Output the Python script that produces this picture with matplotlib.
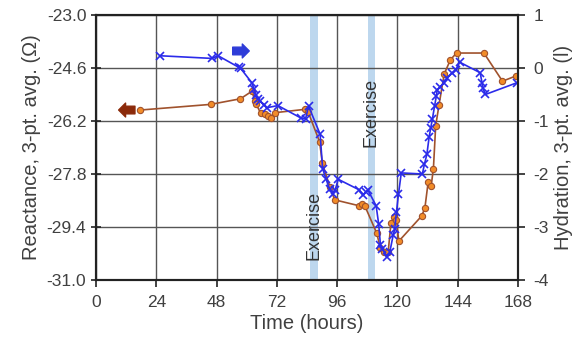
import numpy as np
import matplotlib
matplotlib.use('Agg')
import matplotlib.pyplot as plt

plt.rcParams['font.family'] = ['Liberation Sans', 'DejaVu Sans']
plt.rcParams['axes.unicode_minus'] = False

# reactance (left axis), orange circles
react_t = [17.7, 45.6, 57.5, 62.1, 63.2, 63.8, 65.5, 67.1, 68.5, 69.5, 71.2,
           83.1, 84.4, 89.0, 90.1, 93.1, 95.0, 104.8, 105.8, 107.1, 111.7,
           113.2, 114.6, 116.3, 117.4, 118.6, 119.6, 120.5, 129.6, 130.9,
           132.2, 133.4, 134.3, 135.2, 136.5, 138.6, 141.1, 143.5, 154.4,
           161.8, 167.2]
react_v = [-25.87, -25.70, -25.53, -25.30, -25.60, -25.70, -25.96, -26.00,
           -26.05, -26.12, -25.95, -25.85, -25.92, -26.83, -27.48, -28.19,
           -28.58, -28.76, -28.70, -28.78, -29.58, -30.03, -30.15, -30.15,
           -29.28, -29.10, -29.18, -29.83, -29.07, -28.83, -28.05, -28.16,
           -27.64, -26.35, -25.73, -24.78, -24.35, -24.15, -24.15, -25.00,
           -24.84]

# hydration (right axis), blue crosses
hyd_t = [25.4, 46.1, 48.6, 56.9, 57.6, 62.2, 62.8, 63.6, 64.5, 65.3, 67.0,
         68.0, 72.4, 81.4, 83.4, 84.6, 89.2, 90.2, 91.6, 93.0, 94.4, 95.2,
         96.4, 104.8, 106.3, 107.4, 108.3, 111.5, 112.5, 113.2, 114.0, 115.7,
         116.9, 118.3, 118.9, 119.6, 120.4, 121.5, 129.9, 130.7, 131.7, 132.6,
         133.2, 133.9, 134.8, 135.5, 135.8, 137.1, 138.4, 139.8, 141.6, 143.2,
         144.7, 152.9, 153.7, 154.0, 155.0, 167.5]
hyd_v = [0.23, 0.18, 0.23, 0.01, -0.01, -0.29, -0.40, -0.51, -0.58, -0.63,
         -0.69, -0.75, -0.71, -0.94, -0.96, -0.72, -1.25, -1.90, -2.10, -2.29,
         -2.37, -2.30, -2.10, -2.30, -2.40, -2.34, -2.31, -2.60, -2.94, -3.33,
         -3.41, -3.57, -3.48, -3.15, -3.04, -2.71, -2.38, -1.98, -2.00, -1.82,
         -1.63, -1.30, -1.14, -0.96, -0.71, -0.52, -0.42, -0.35, -0.29, -0.19,
         -0.10, -0.04, 0.11, -0.09, -0.29, -0.38, -0.50, -0.28]

exercise_spans = [(85.2, 88.5), (108.3, 111.0)]
exercise_text_pos = [(86.85, -29.34), (109.65, -25.93)]

xticks = [0, 24, 48, 72, 96, 120, 144, 168]
left_ticks = [-31.0, -29.4, -27.8, -26.2, -24.6, -23.0]
right_ticks = [-4, -3, -2, -1, 0, 1]

txt = '#404040'
fig = plt.figure(figsize=(5.75, 3.47), dpi=100)
ax = fig.add_axes([0.167, 0.193, 0.734, 0.764])
ax2 = ax.twinx()

for a, b in exercise_spans:
    ax.axvspan(a, b, color='#bdd7ee', lw=0, zorder=0)
for x, y in exercise_text_pos:
    ax.text(x, y, 'Exercise', rotation=90, ha='center', va='center',
            fontsize=13, color='#333333', zorder=3)

ax.plot(react_t, react_v, '-o', color='#a0522d', lw=1.2, ms=4.5,
        mfc='#f28c28', mec='#a0522d', mew=0.8, zorder=4)
ax2.plot(hyd_t, hyd_v, '-x', color='#2b2bea', lw=1.2, ms=5.5, mew=1.2)

ax.set_xlim(0, 168)
ax.set_ylim(-31.0, -23.0)
ax2.set_ylim(-4, 1)
ax.set_xticks(xticks)
ax.set_yticks(left_ticks)
ax.set_yticklabels(['%.1f' % v for v in left_ticks])
ax2.set_yticks(right_ticks)
ax.grid(True, color='#555555', lw=1.0, zorder=1)
ax.set_axisbelow(True)

for a in (ax, ax2):
    for s in a.spines.values():
        s.set_color('#222222')
        s.set_linewidth(1.5)
ax.tick_params(axis='y', direction='inout', length=7, width=1.2,
               labelsize=12.5, labelcolor=txt, color='#222222')
ax.tick_params(axis='x', direction='out', length=5, width=1.2,
               labelsize=12.5, labelcolor=txt, color='#222222', pad=6)
ax2.tick_params(axis='y', direction='out', length=5, width=1.2,
                labelsize=12.5, labelcolor=txt, color='#222222', pad=6)

ax.set_xlabel('Time (hours)', fontsize=14.5, color=txt, labelpad=3)
ax.set_ylabel('Reactance, 3-pt. avg. (\u03a9)', fontsize=14.5, color=txt,
              labelpad=4)
ax2.set_ylabel('Hydration, 3-pt. avg. (l)', fontsize=14.5, color=txt,
               labelpad=4)

# direction arrows
ax.annotate('', xy=(9.0, -25.87), xytext=(15.5, -25.87),
            arrowprops=dict(arrowstyle='simple,head_length=0.5,head_width=1.0,tail_width=0.55',
                            color='#8b2a0a', mutation_scale=10,
                            shrinkA=0, shrinkB=0), zorder=5)
ax2.annotate('', xy=(61.0, 0.32), xytext=(54.4, 0.32),
             arrowprops=dict(arrowstyle='simple,head_length=0.5,head_width=1.0,tail_width=0.55',
                             color='#2e3cd8', mutation_scale=10,
                             shrinkA=0, shrinkB=0), zorder=5)

fig.savefig('out.png', dpi=100)
